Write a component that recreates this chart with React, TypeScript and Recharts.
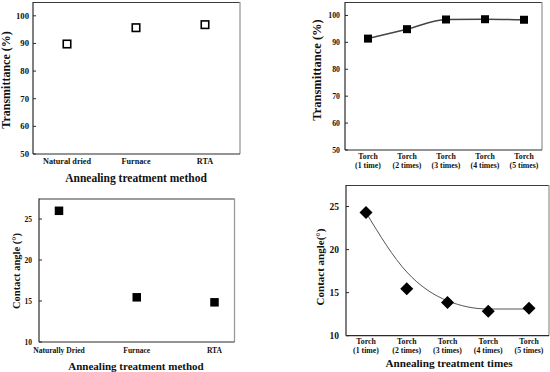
import React from 'react';
import { ComposedChart, Line, Scatter, XAxis, YAxis, CartesianGrid, Label } from 'recharts';

// ---------- data ----------
const methodCategoriesA = ['Natural dried', 'Furnace', 'RTA'];
const methodTransmittance = [89.8, 95.7, 96.8];

const torchCategories = ['Torch (1 time)', 'Torch (2 times)', 'Torch (3 times)', 'Torch (4 times)', 'Torch (5 times)'];
const torchTransmittance = [91.4, 94.9, 98.5, 98.6, 98.4];

const methodCategoriesB = ['Naturally Dried', 'Furnace', 'RTA'];
const methodContactAngle = [26.0, 15.45, 14.84];

const torchContactAngle = [24.3, 15.45, 13.85, 12.85, 13.2];
const torchContactFit = [24.3, 17.4, 14.05, 13.1, 13.1];

const transmittanceTicks = [50, 60, 70, 80, 90, 100];
const contactTicks = [10, 15, 20, 25];

const data1 = methodCategoriesA.map((c, i) => ({ c, v: methodTransmittance[i] }));
const data2 = torchCategories.map((c, i) => ({ c, v: torchTransmittance[i] }));
const data3 = methodCategoriesB.map((c, i) => ({ c, v: methodContactAngle[i] }));
const data4 = torchCategories.map((c, i) => ({ c, v: torchContactAngle[i], fit: torchContactFit[i] }));

// ---------- styling helpers ----------
const W = 550;
const H = 372;
const FONT = '"Liberation Serif", "DejaVu Serif", serif';
const AX = '#2a2a2a';

const makeYTick = (fontSize: number, margin: number) => (props: any) => {
  const { x, y, payload } = props;
  const ax = x + margin;
  return (
    <g>
      <text x={x} y={y} dy="0.35em" textAnchor="end" fontFamily={FONT} fontWeight="bold" fontSize={fontSize} fill="#111">
        {payload.value}
      </text>
      <line x1={ax} x2={ax + 3} y1={y} y2={y} stroke={AX} strokeWidth={1} />
    </g>
  );
};

const makeXTick = (fontSize: number, dy: number) => (props: any) => {
  const { x, y, payload } = props;
  return (
    <text x={x} y={y + dy} textAnchor="middle" fontFamily={FONT} fontWeight="bold" fontSize={fontSize} fill="#111">
      {payload.value}
    </text>
  );
};

const makeXTick2 = (fontSize: number, dy1: number, dy2: number) => (props: any) => {
  const { x, y, payload } = props;
  const s = String(payload.value);
  const k = s.indexOf(' ');
  return (
    <g>
      <text x={x} y={y + dy1} textAnchor="middle" fontFamily={FONT} fontWeight="bold" fontSize={fontSize} fill="#111">
        {s.slice(0, k)}
      </text>
      <text x={x} y={y + dy2} textAnchor="middle" fontFamily={FONT} fontWeight="bold" fontSize={fontSize} fill="#111">
        {s.slice(k + 1)}
      </text>
    </g>
  );
};

const yTitle = (text: string, cx: number, cy: number, fontSize: number) => () => (
  <text
    x={cx}
    y={cy}
    transform={`rotate(-90, ${cx}, ${cy})`}
    textAnchor="middle"
    dominantBaseline="central"
    fontFamily={FONT}
    fontWeight="bold"
    fontSize={fontSize}
    fill="#111"
  >
    {text}
  </text>
);

const xTitle = (text: string, cx: number, baseline: number, fontSize: number) => () => (
  <text x={cx} y={baseline} textAnchor="middle" fontFamily={FONT} fontWeight="bold" fontSize={fontSize} fill="#111">
    {text}
  </text>
);

const squareDot = (size: number, filled: boolean) => (props: any) => {
  const { cx, cy, index } = props;
  if (cx == null || cy == null) return <g key={index} />;
  return (
    <rect
      key={index}
      x={cx - size / 2}
      y={cy - size / 2}
      width={size}
      height={size}
      fill={filled ? '#000' : '#fff'}
      stroke="#000"
      strokeWidth={filled ? 0 : 1.6}
    />
  );
};

const diamond = (props: any) => {
  const { cx, cy } = props;
  const r = 6.5;
  return <polygon points={`${cx},${cy - r} ${cx + r},${cy} ${cx},${cy + r} ${cx - r},${cy}`} fill="#000" />;
};

type Box = { left: number; top: number; right: number; bottom: number };

const frame = (box: Box) => [
  <CartesianGrid
    key="gt"
    vertical={false}
    horizontal
    stroke="#3a3a3a"
    strokeWidth={1}
    horizontalCoordinatesGenerator={() => [box.top + 0.5]}
  />,
  <CartesianGrid
    key="gr"
    vertical
    horizontal={false}
    stroke="#9a9a9a"
    strokeWidth={1.3}
    verticalCoordinatesGenerator={() => [box.right]}
  />,
];

const layer: React.CSSProperties = { position: 'absolute', left: 0, top: 0, width: W, height: H };

function Panel1() {
  const box = { left: 33, top: 2, right: 240, bottom: 154 };
  return (
    <div style={layer}>
      <ComposedChart width={W} height={H} data={data1} margin={{ top: box.top, left: 0, right: W - box.right, bottom: 0 }}>
        {frame(box)}
        <XAxis
          dataKey="c"
          type="category"
          scale="point"
          padding={{ left: 34, right: 35 }}
          height={H - box.bottom}
          tickSize={0}
          tickMargin={0}
          tickLine={false}
          axisLine={{ stroke: AX, strokeWidth: 1.2 }}
          tick={makeXTick(8.2, 10)}
          interval={0}
        >
          <Label content={xTitle('Annealing treatment method', 136, 182, 11.5)} />
        </XAxis>
        <YAxis
          type="number"
          domain={[50, 105]}
          ticks={transmittanceTicks}
          width={box.left}
          tickSize={0}
          tickMargin={4}
          tickLine={false}
          axisLine={{ stroke: AX, strokeWidth: 1.2 }}
          tick={makeYTick(8.7, 4)}
        >
          <Label content={yTitle('Transmittance (%)', 6, 80, 12)} />
        </YAxis>
        <Scatter dataKey="v" isAnimationActive={false} shape={squareDot(7.5, false)} />
      </ComposedChart>
    </div>
  );
}

function Panel2() {
  const box = { left: 345, top: 2, right: 542, bottom: 150 };
  return (
    <div style={layer}>
      <ComposedChart width={W} height={H} data={data2} margin={{ top: box.top, left: 0, right: W - box.right, bottom: 0 }}>
        {frame(box)}
        <XAxis
          dataKey="c"
          type="category"
          scale="point"
          padding={{ left: 23, right: 18 }}
          height={H - box.bottom}
          tickSize={0}
          tickMargin={0}
          tickLine={false}
          axisLine={{ stroke: AX, strokeWidth: 1.2 }}
          tick={makeXTick2(7.8, 8.5, 17.5)}
          interval={0}
        />
        <YAxis
          type="number"
          domain={[50, 105]}
          ticks={transmittanceTicks}
          width={box.left}
          tickSize={0}
          tickMargin={5}
          tickLine={false}
          axisLine={{ stroke: AX, strokeWidth: 1.2 }}
          tick={makeYTick(7.8, 5)}
        >
          <Label content={yTitle('Transmittance (%)', 317, 70, 12.5)} />
        </YAxis>
        <Line
          dataKey="v"
          type="monotone"
          stroke="#444"
          strokeWidth={1.5}
          isAnimationActive={false}
          dot={squareDot(8, true)}
          activeDot={false}
        />
      </ComposedChart>
    </div>
  );
}

function Panel3() {
  const box = { left: 39, top: 198.5, right: 234.5, bottom: 342 };
  return (
    <div style={layer}>
      <ComposedChart width={W} height={H} data={data3} margin={{ top: box.top, left: 0, right: W - box.right, bottom: 0 }}>
        {frame(box)}
        <XAxis
          dataKey="c"
          type="category"
          scale="point"
          padding={{ left: 20, right: 20 }}
          height={H - box.bottom}
          tickSize={0}
          tickMargin={0}
          tickLine={false}
          axisLine={{ stroke: AX, strokeWidth: 1.2 }}
          tick={makeXTick(7.6, 11)}
          interval={0}
        >
          <Label content={xTitle('Annealing treatment method', 136, 370, 11)} />
        </XAxis>
        <YAxis
          type="number"
          domain={[10, 27.5]}
          ticks={contactTicks}
          width={box.left}
          tickSize={0}
          tickMargin={7}
          tickLine={false}
          axisLine={{ stroke: AX, strokeWidth: 1.2 }}
          tick={makeYTick(7.5, 7)}
        >
          <Label content={yTitle('Contact angle (°)', 16, 271, 10.5)} />
        </YAxis>
        <Scatter dataKey="v" isAnimationActive={false} shape={squareDot(8.5, true)} />
      </ComposedChart>
    </div>
  );
}

function Panel4() {
  const box = { left: 346, top: 185, right: 549, bottom: 335.7 };
  return (
    <div style={layer}>
      <ComposedChart width={W} height={H} data={data4} margin={{ top: box.top, left: 0, right: W - box.right, bottom: 0 }}>
        {frame(box)}
        <XAxis
          dataKey="c"
          type="category"
          scale="point"
          padding={{ left: 20, right: 20 }}
          height={H - box.bottom}
          tickSize={0}
          tickMargin={0}
          tickLine={false}
          axisLine={{ stroke: AX, strokeWidth: 1.2 }}
          tick={makeXTick2(7.8, 8, 17)}
          interval={0}
        >
          <Label content={xTitle('Annealing treatment times', 449, 367, 11.2)} />
        </XAxis>
        <YAxis
          type="number"
          domain={[10, 27.5]}
          ticks={contactTicks}
          width={box.left}
          tickSize={0}
          tickMargin={7}
          tickLine={false}
          axisLine={{ stroke: AX, strokeWidth: 1.2 }}
          tick={makeYTick(9.5, 7)}
        >
          <Label content={yTitle('Contact angle(°)', 320, 267, 11)} />
        </YAxis>
        <Line
          dataKey="fit"
          type="monotone"
          stroke="#555"
          strokeWidth={1}
          dot={false}
          activeDot={false}
          isAnimationActive={false}
        />
        <Scatter dataKey="v" isAnimationActive={false} shape={diamond} />
      </ComposedChart>
    </div>
  );
}

export default function App() {
  return (
    <div style={{ position: 'absolute', left: 0, top: 0, width: W, height: H, background: '#fff', overflow: 'hidden' }}>
      <Panel1 />
      <Panel2 />
      <Panel3 />
      <Panel4 />
    </div>
  );
}
